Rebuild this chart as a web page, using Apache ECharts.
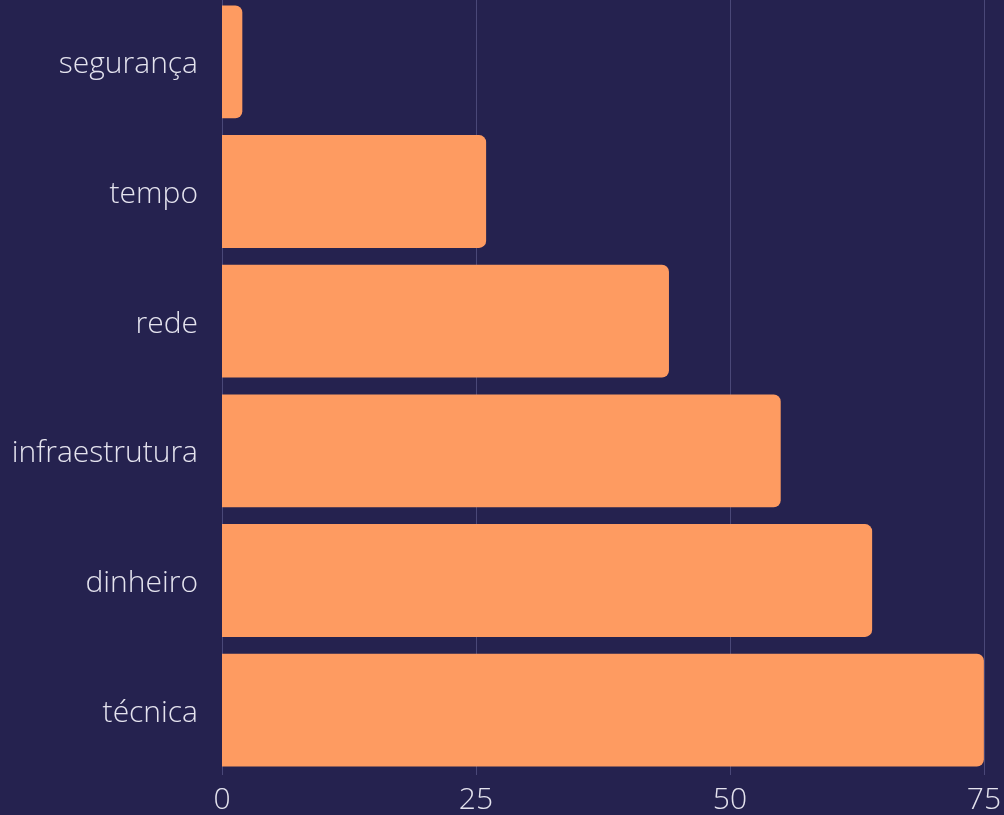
<!DOCTYPE html>
<html>
<head>
<meta charset="utf-8">
<script src="https://cdn.jsdelivr.net/npm/echarts@6/dist/echarts.min.js"></script>
<style>
  html, body { margin: 0; padding: 0; background: #25224f; overflow: hidden; }
  /* the top band is cropped slightly by the page edge */
  #chart { width: 1004px; height: 818px; margin-top: -3px; }
</style>
</head>
<body>
<div id="chart"></div>
<script>
// Categories listed bottom-to-top (category axis on y starts at the bottom)
const categories = ['técnica', 'dinheiro', 'infraestrutura', 'rede', 'tempo', 'segurança'];
const values = [75, 64, 55, 44, 26, 2];
const xTicks = [0, 25, 50, 75];

const labelFont = { color: '#e4e3ee', fontFamily: 'Open Sans', fontWeight: 300, fontSize: 30 };

const chart = echarts.init(document.getElementById('chart'));
chart.setOption({
  backgroundColor: '#25224f',
  animation: false,
  grid: { left: 222, right: 19, top: 0, bottom: 39.5, containLabel: false },
  xAxis: {
    type: 'value',
    min: xTicks[0],
    max: xTicks[xTicks.length - 1],
    interval: 25,
    axisLine: { show: false },
    axisTick: { show: false },
    splitLine: { show: true, lineStyle: { color: '#4a4878', width: 1 } },
    axisLabel: Object.assign({ margin: 10 }, labelFont)
  },
  yAxis: {
    type: 'category',
    data: categories,
    axisLine: { show: false },
    axisTick: { show: false },
    axisLabel: Object.assign({
      margin: 24,
      formatter: v => '{c|' + v + '}',
      rich: { c: Object.assign({ padding: [6, 0, 0, 0] }, labelFont) }
    }, labelFont)
  },
  series: [{
    type: 'bar',
    data: values,
    barCategoryGap: '13%',
    itemStyle: { color: '#fe9b61', borderRadius: [0, 7, 7, 0] }
  }]
});
</script>
</body>
</html>
